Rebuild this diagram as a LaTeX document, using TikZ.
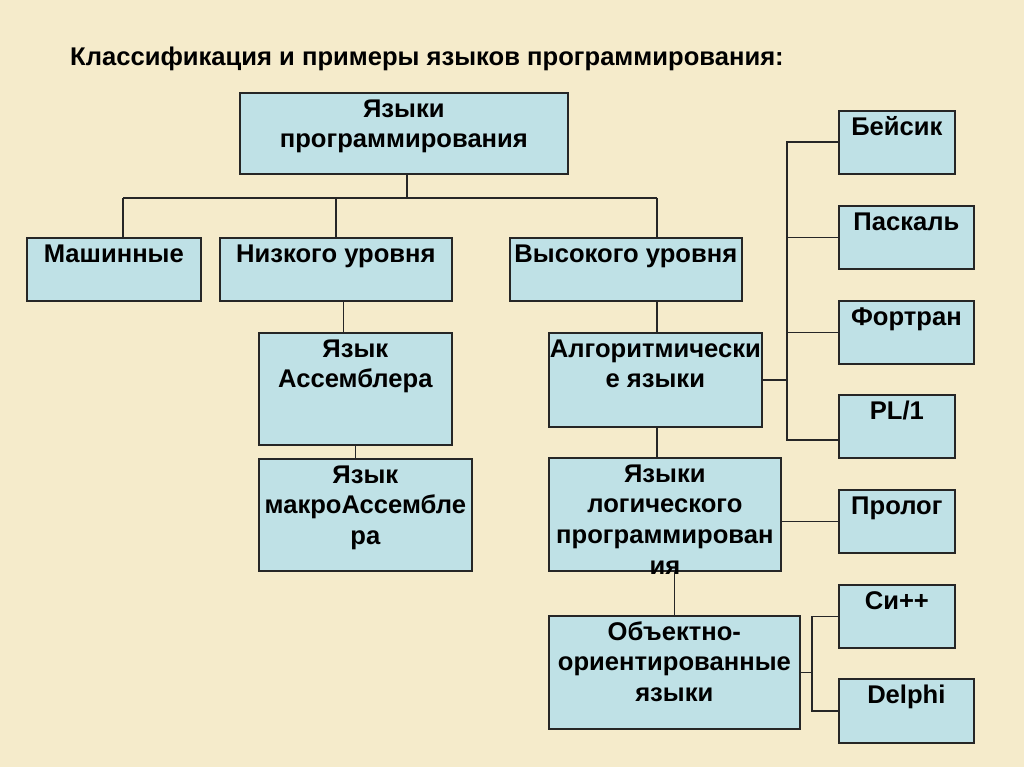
\documentclass[tikz,border=0pt]{standalone}
\usepackage{fontspec}
\setmainfont{Liberation Sans}
\usetikzlibrary{positioning}
\definecolor{bgbeige}{HTML}{F5EBCB}
\definecolor{boxblue}{HTML}{BFE1E6}
\definecolor{edgegray}{HTML}{262626}
\tikzset{
  box/.style={draw=edgegray, fill=boxblue, line width=1.7pt, anchor=north west, inner sep=0pt},
  txt/.style={anchor=north, inner sep=0pt, align=center, font=\fontsize{25.6}{30.7}\selectfont\bfseries},
  wire/.style={draw=edgegray, line width=1.7pt}
}
\begin{document}
\begin{tikzpicture}[x=1pt,y=-1pt]
  \fill[bgbeige] (0,0) rectangle (1024,767);
  \node[anchor=base west, inner sep=0pt, font=\fontsize{25.6}{30.7}\selectfont\bfseries] (head) at (70,66)
    {Классификация и примеры языков программирования:};

  % boxes
  \node[box, minimum width=328, minimum height=81] (top) at (239,92) {};
  \node[box, minimum width=174, minimum height=63] (mash) at (26,237) {};
  \node[box, minimum width=232, minimum height=63] (nizk) at (219,237) {};
  \node[box, minimum width=232, minimum height=63] (vys) at (509,237) {};
  \node[box, minimum width=193, minimum height=112] (asm) at (258,332) {};
  \node[box, minimum width=213, minimum height=112] (macro) at (258,458) {};
  \node[box, minimum width=213, minimum height=94] (algo) at (548,332) {};
  \node[box, minimum width=232, minimum height=113] (logic) at (548,457) {};
  \node[box, minimum width=251, minimum height=113] (oop) at (548,615) {};
  \node[box, minimum width=116, minimum height=63] (beis) at (838,110) {};
  \node[box, minimum width=135, minimum height=63] (pask) at (838,205) {};
  \node[box, minimum width=135, minimum height=63] (fort) at (838,300) {};
  \node[box, minimum width=116, minimum height=63] (pl1) at (838,394) {};
  \node[box, minimum width=116, minimum height=63] (prol) at (838,489) {};
  \node[box, minimum width=116, minimum height=63] (cpp) at (838,584) {};
  \node[box, minimum width=135, minimum height=64] (delphi) at (838,678) {};

  % texts
  \node[txt] (top-t) at ([yshift=-3.5pt]top.north) {\strut Языки\\программирования};
  \node[txt] (mash-t) at ([yshift=-3.5pt]mash.north) {\strut Машинные};
  \node[txt] (nizk-t) at ([yshift=-3.5pt]nizk.north) {\strut Низкого уровня};
  \node[txt] (vys-t) at ([yshift=-3.5pt]vys.north) {\strut Высокого уровня};
  \node[txt] (asm-t) at ([yshift=-3.5pt]asm.north) {\strut Язык\\Ассемблера};
  \node[txt] (macro-t) at ([yshift=-3.5pt]macro.north) {\strut Язык\\макроАссембле\\ра};
  \node[txt] (algo-t) at ([yshift=-3.5pt]algo.north) {\strut Алгоритмически\\е языки};
  \node[txt] (logic-t) at ([yshift=-3.5pt]logic.north) {\strut Языки\\логического\\программирован\\ия};
  \node[txt] (oop-t) at ([yshift=-3.5pt]oop.north) {\strut Объектно-\\ориентированные\\языки};
  \node[txt] (beis-t) at ([yshift=-3.5pt]beis.north) {\strut Бейсик};
  \node[txt] (pask-t) at ([yshift=-3.5pt]pask.north) {\strut Паскаль};
  \node[txt] (fort-t) at ([yshift=-3.5pt]fort.north) {\strut Фортран};
  \node[txt] (pl1-t) at ([yshift=-3.5pt]pl1.north) {\strut PL/1};
  \node[txt] (prol-t) at ([yshift=-3.5pt]prol.north) {\strut Пролог};
  \node[txt] (cpp-t) at ([yshift=-3.5pt]cpp.north) {\strut Си++};
  \node[txt] (delphi-t) at ([yshift=-3.5pt]delphi.north) {\strut Delphi};

  % connectors
  \coordinate (hub) at (407,198);
  \coordinate (bl) at (123,198);
  \coordinate (br) at (657,198);
  \coordinate (la) at ([xshift=-12pt]asm.north);
  \coordinate (ra) at (787,375);
  \coordinate (rb) at (787,440);
  \coordinate (oa) at (812,675);
  \draw[wire] (hub |- top.south) -- (hub);
  \draw[wire] (bl) -- (br);
  \draw[wire] (bl) -- (bl |- mash.north);
  \draw[wire] (nizk.north |- hub) -- (nizk.north);
  \draw[wire] (br) -- (br |- vys.north);
  \draw[wire] (la |- nizk.south) -- (la);
  \draw[wire] (asm.south) -- (asm.south |- macro.north);
  \draw[wire] (br |- vys.south) -- (br |- algo.north);
  \draw[wire] (br |- algo.south) -- (br |- logic.north);
  \draw[wire] (oop.north |- logic.south) -- (oop.north);
  \draw[wire] (algo.east) -- (algo.east -| ra);
  \draw[wire] (beis.west) -- (beis.west -| ra) -- (rb) -- (rb -| pl1.west);
  \draw[wire] (pask.west) -- (pask.west -| ra);
  \draw[wire] (fort.west) -- (fort.west -| ra);
  \draw[wire] (prol.west -| logic.east) -- (prol.west);
  \draw[wire] (oop.east) -- (oop.east -| oa);
  \draw[wire] (cpp.west) -- (cpp.west -| oa) -- (oa |- delphi.west) -- (delphi.west);
\end{tikzpicture}
\end{document}
